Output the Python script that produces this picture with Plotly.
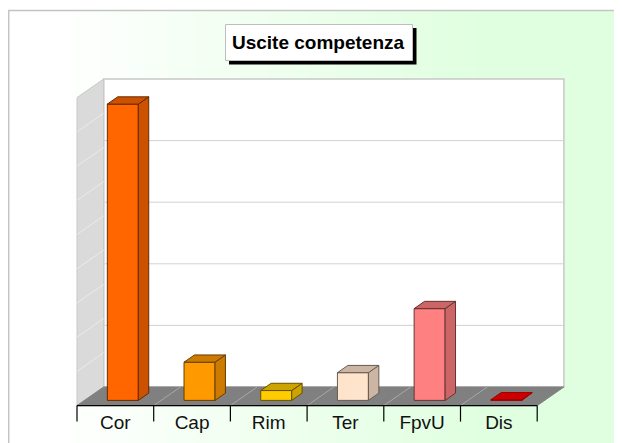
import plotly.graph_objects as go

# Data (one gridline = 100)
categories = ["Cor", "Cap", "Rim", "Ter", "FpvU", "Dis"]
values = [481, 62, 16, 45, 149, 1]
front_colors = ["#FF6600", "#FF9900", "#FFCC00", "#FFE4CC", "#FF8080", "#CC0000"]
side_colors = ["#CC5200", "#CC7A00", "#CCA300", "#CCB6A3", "#CC6666", "#CC0000"]
edge_colors = ["#662900", "#663D00", "#665200", "#665B52", "#663333", "#A00000"]
grid_values = [0, 100, 200, 300, 400, 500]
side_wall_divisions = 9

# The page body has an 8px margin, so the figure starts at (8, 8) in the window
W, H = 614, 435
X0, Y0 = 69.0, 397.6          # pixel of category 0, value 0, front plane
CAT_PX, VAL_PX = 76.7, 0.616  # px per category, px per value unit
DX, DY = 26.7 / CAT_PX, 18.6 / VAL_PX  # full depth offset in data units
BAR_W = 0.404
D1, D2 = 0.28, 0.67           # bar depth extent
N = len(categories)


def proj(u, v, d=0.0):
    return u + d * DX, v + d * DY


def path(pts):
    return "M" + " L".join(f"{x:.4f},{y:.4f}" for x, y in pts) + " Z"


def line_shape(a, b, color, width=1):
    return dict(type="line", xref="x", yref="y", x0=a[0], y0=a[1], x1=b[0], y1=b[1],
                line=dict(color=color, width=width), layer="below")


def px_rect(x0, y0, x1, y1, fill, line=None):
    return dict(type="rect", xref="paper", yref="paper", x0=x0 / W, x1=x1 / W,
                y0=1 - y1 / H, y1=1 - y0 / H, fillcolor=fill,
                line=dict(width=1 if line else 0, color=line or "rgba(0,0,0,0)"), layer="below")


shapes = []
# gradient background, white to pale green, left to right
GRAD_START, GRAD_END = 42, 472
x = 0
while x < W:
    t = min(1, max(0, (x - GRAD_START) / (GRAD_END - GRAD_START)))
    c = f"rgb({round(255 - 31 * t)},{255},{round(255 - 31 * t)})"
    shapes.append(px_rect(x, 2, x + 5, H + 2, c))
    x += 4
# frame edges
shapes.append(dict(type="line", xref="paper", yref="paper", x0=0.7 / W, x1=0.7 / W, y0=0, y1=1 - 2.5 / H,
                   line=dict(color="#C4C4C4", width=1.5), layer="below"))
shapes.append(dict(type="line", xref="paper", yref="paper", x0=0, x1=1, y0=1 - 2.5 / H, y1=1 - 2.5 / H,
                   line=dict(color="#C4C4C4", width=1.5), layer="below"))
# title box
shapes.append(px_rect(221, 20, 408.5, 56.5, "#000000"))
shapes.append(px_rect(217.5, 16.5, 404.5, 52.5, "#FFFFFF", "#BEBEBE"))

TOP = grid_values[-1]
# back wall, side wall, floor
shapes.append(dict(type="path", xref="x", yref="y", layer="below", fillcolor="#FFFFFF",
                   line=dict(color="#C8C8C8", width=1.5),
                   path=path([proj(0, 0, 1), proj(N, 0, 1), proj(N, TOP, 1), proj(0, TOP, 1)])))
shapes.append(dict(type="path", xref="x", yref="y", layer="below", fillcolor="#DADADA",
                   line=dict(color="#C8C8C8", width=1),
                   path=path([proj(0, 0, 0), proj(0, 0, 1), proj(0, TOP, 1), proj(0, TOP, 0)])))
shapes.append(dict(type="path", xref="x", yref="y", layer="below", fillcolor="#808080",
                   line=dict(color="#808080", width=1),
                   path=path([proj(0, 0, 0), proj(N, 0, 0), proj(N, 0, 1), proj(0, 0, 1)])))
for g in grid_values[1:-1]:
    shapes.append(line_shape(proj(0, g, 1), proj(N, g, 1), "#D2D2D2"))
for k in range(1, side_wall_divisions):
    g = TOP * k / side_wall_divisions
    shapes.append(line_shape(proj(0, g, 0), proj(0, g, 1), "#EBEBEB"))
for i in range(1, N):
    shapes.append(line_shape(proj(i, 0, 0), proj(i, 0, 1), "#A8A8A8"))
# category axis line and ticks
shapes.append(line_shape(proj(0, 0), proj(N, 0), "#000000", 1.2))
for i in range(N + 1):
    shapes.append(line_shape(proj(i, 0), proj(i, -26), "#000000", 1.2))

centers = [i + 0.5 for i in range(N)]
base = D1 * DY
traces = [go.Bar(x=[c + D1 * DX for c in centers], y=values, base=[base] * N, width=BAR_W,
                 showlegend=False, hoverinfo="skip",
                 marker=dict(color=front_colors, line=dict(color=edge_colors, width=1)))]


def poly(pts, fill, edge):
    xs, ys = zip(*(pts + pts[:1]))
    return go.Scatter(x=xs, y=ys, mode="lines", fill="toself", fillcolor=fill,
                      line=dict(color=edge, width=1), showlegend=False, hoverinfo="skip")


for c, v, sc, ec in zip(centers, values, side_colors, edge_colors):
    l, r = c - BAR_W / 2, c + BAR_W / 2
    # side face
    traces.append(poly([proj(r, 0, D1), proj(r, 0, D2), proj(r, v, D2), proj(r, v, D1)], sc, ec))
    # top face
    traces.append(poly([proj(l, v, D1), proj(r, v, D1), proj(r, v, D2), proj(l, v, D2)], sc, ec))

fig = go.Figure(traces)
fig.update_layout(
    width=W, height=H, margin=dict(l=0, r=0, t=0, b=0),
    paper_bgcolor="#FFFFFF", plot_bgcolor="rgba(0,0,0,0)",
    shapes=shapes, showlegend=False,
    title=dict(text="<b>Uscite competenza</b>", x=310 / W, xanchor="center", xref="paper",
               y=1 - 34 / H, yanchor="middle", yref="paper",
               font=dict(family="Liberation Sans", size=19, color="#000000")),
    xaxis=dict(range=[-X0 / CAT_PX, (W - X0) / CAT_PX], tickmode="array", tickvals=centers, ticktext=categories,
               anchor="free", position=(H - Y0) / H, showgrid=False, zeroline=False, showline=False,
               ticks="", ticklabelstandoff=3, tickangle=0,
               tickfont=dict(family="Liberation Sans", size=19, color="#111111")),
    yaxis=dict(range=[-(H - Y0) / VAL_PX, Y0 / VAL_PX], visible=False, showgrid=False, zeroline=False),
)
fig.write_html("out.html")
